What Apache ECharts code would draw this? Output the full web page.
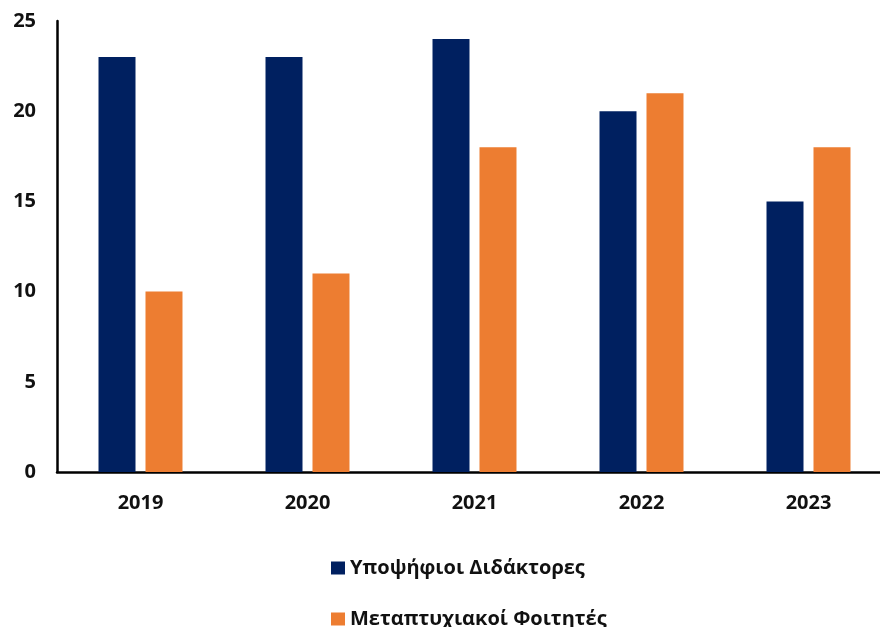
<!DOCTYPE html>
<html>
<head>
<meta charset="utf-8">
<script src="https://cdn.jsdelivr.net/npm/echarts@6/dist/echarts.min.js"></script>
<style>
    html, body { margin: 0; padding: 0; background: #fff; }
    #chart { width: 880px; height: 627px; }
</style>
</head>
<body>
<div id="chart"></div>
<script>
const years = ["2019", "2020", "2021", "2022", "2023"];
const phdCandidates = [23, 23, 24, 20, 15];
const mastersStudents = [10, 11, 18, 21, 18];
const seriesNames = ["Υποψήφιοι Διδάκτορες", "Μεταπτυχιακοί Φοιτητές"];

let chart = echarts.init(document.getElementById("chart"));

let legendText = {
    fontSize: 20,
    fontWeight: "bold",
    color: "#111"
};

let option = {
    animation: false,
    textStyle: { fontFamily: "Open Sans" },
    grid: {
        left: 57,
        top: 21,
        width: 835,
        height: 451,
        containLabel: false,
        outerBoundsMode: "none"
    },
    legend: [
        {
            left: 326,
            top: 553,
            itemWidth: 14,
            itemHeight: 13,
            icon: "rect",
            textStyle: legendText,
            data: [seriesNames[0]]
        },
        {
            left: 326,
            top: 604,
            itemWidth: 14,
            itemHeight: 13,
            icon: "rect",
            textStyle: legendText,
            data: [seriesNames[1]]
        }
    ],
    xAxis: {
        type: "category",
        data: years,
        axisLine: { lineStyle: { color: "#000", width: 2.5 } },
        axisTick: { show: false },
        axisLabel: {
            margin: 21,
            fontSize: 20,
            fontWeight: "bold",
            color: "#111"
        }
    },
    yAxis: {
        type: "value",
        min: 0,
        max: 25,
        interval: 5,
        axisLine: { show: true, lineStyle: { color: "#000", width: 2.5 } },
        axisTick: { show: false },
        splitLine: { show: false },
        axisLabel: {
            margin: 21,
            fontSize: 20,
            fontWeight: "bold",
            color: "#111"
        }
    },
    series: [
        {
            name: seriesNames[0],
            type: "bar",
            data: phdCandidates,
            barWidth: 37,
            barGap: "27%",
            itemStyle: { color: "#002060" }
        },
        {
            name: seriesNames[1],
            type: "bar",
            data: mastersStudents,
            barWidth: 37,
            itemStyle: { color: "#ED7D31" }
        }
    ]
};

chart.setOption(option);
window.addEventListener("resize", chart.resize);
</script>
</body>
</html>
